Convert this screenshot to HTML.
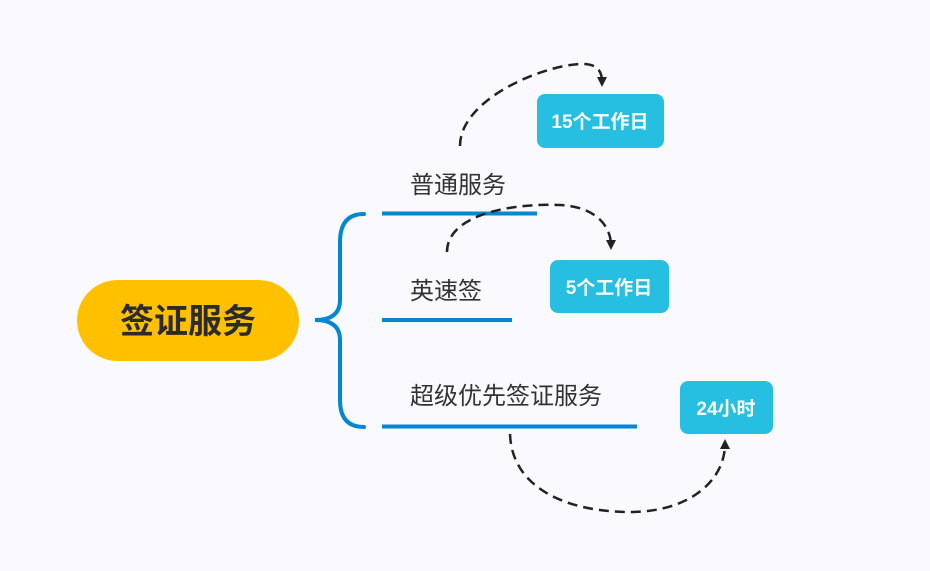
<!DOCTYPE html>
<html><head><meta charset="utf-8"><style>
html,body{margin:0;padding:0;background:#f9f9fe;}
svg{display:block}
text{font-family:"Liberation Sans","Noto Sans CJK SC",sans-serif;}
</style></head><body>
<svg width="930" height="571" viewBox="0 0 930 571" xmlns="http://www.w3.org/2000/svg">
<defs>
<marker id="ah" markerWidth="10" markerHeight="10" refX="5" refY="5" orient="auto" markerUnits="userSpaceOnUse">
<path d="M0,0 L10,5 L0,10 Z" fill="#222"/>
</marker>
</defs>
<rect width="930" height="571" fill="#f9f9fe"/>
<rect x="77" y="280" width="222" height="81" rx="40.5" fill="#ffc000"/>
<text x="188" y="333" font-size="34" font-weight="bold" fill="#2b2b2b" text-anchor="middle">签证服务</text>
<path d="M364,214 Q340,214 340,242 L340,300 Q340,320 315,320 Q340,320 340,340 L340,400 Q340,427 364,427" fill="none" stroke="#0288d1" stroke-width="4" stroke-linecap="round"/>
<line x1="382" y1="213.5" x2="537" y2="213.5" stroke="#0288d1" stroke-width="4"/>
<line x1="382" y1="320" x2="512" y2="320" stroke="#0288d1" stroke-width="4"/>
<line x1="382" y1="426.5" x2="637" y2="426.5" stroke="#0288d1" stroke-width="4"/>
<text x="410" y="193" font-size="24" fill="#333">普通服务</text>
<text x="410" y="299" font-size="24" fill="#333">英速签</text>
<text x="410" y="404" font-size="24" fill="#333">超级优先签证服务</text>
<rect x="537" y="94" width="127" height="54" rx="8" fill="#26bfe2"/>
<text x="600" y="128" font-size="19" font-weight="bold" fill="#fff" text-anchor="middle">15个工作日</text>
<rect x="550" y="260" width="119" height="53" rx="8" fill="#26bfe2"/>
<text x="609" y="294" font-size="19" font-weight="bold" fill="#fff" text-anchor="middle">5个工作日</text>
<rect x="680" y="381" width="93" height="53" rx="8" fill="#26bfe2"/>
<text x="726" y="415" font-size="19" font-weight="bold" fill="#fff" text-anchor="middle">24小时</text>
<g fill="none" stroke="#222" stroke-width="2.5" stroke-dasharray="10,6">
<path d="M460,146 C460,100 540,66 580,64 C598,63 602,72 602,82" marker-end="url(#ah)"/>
<path d="M447,252 C447,215 510,203 560,205 C600,207 611,230 611,245" marker-end="url(#ah)"/>
<path d="M510,434 C512,490 570,512 630,512 C690,512 725,480 725,444" marker-end="url(#ah)"/>
</g>
</svg>
</body></html>
